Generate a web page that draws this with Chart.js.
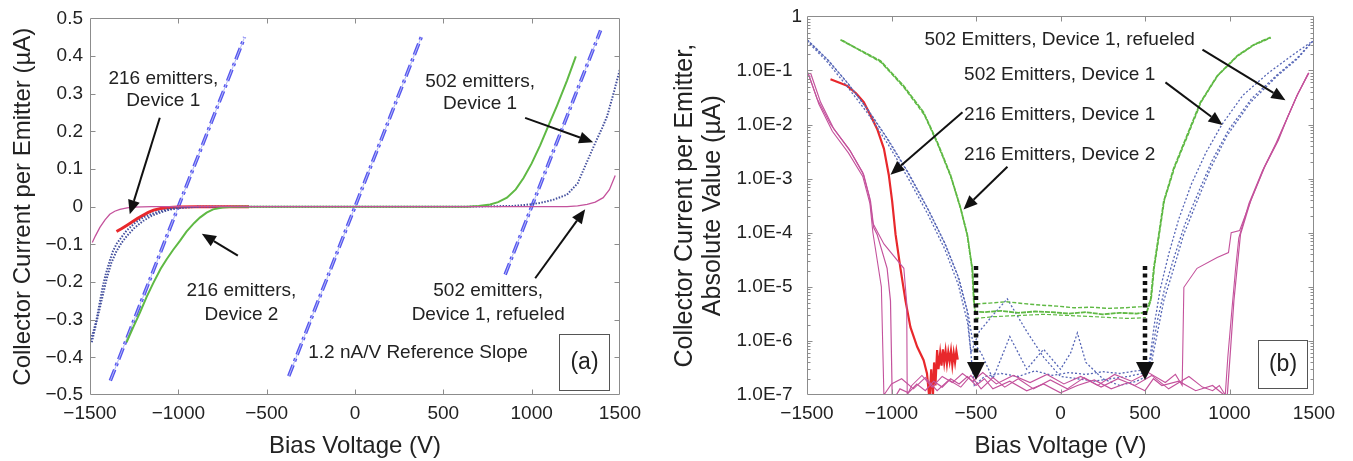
<!DOCTYPE html>
<html><head><meta charset="utf-8">
<script src="https://cdn.jsdelivr.net/npm/chart.js@4.4.1/dist/chart.umd.min.js"></script>
<style>
html,body{margin:0;padding:0;background:#fff;width:1353px;height:461px;overflow:hidden}
#wa{position:absolute;left:0;top:0;width:670px;height:461px}
#wb{position:absolute;left:670px;top:0;width:683px;height:461px}
</style></head><body>
<div id="wa"><canvas id="ca"></canvas></div>
<div id="wb"><canvas id="cb"></canvas></div>
<script>
// ---------- tick values / labels ----------
const xTicks = [-1500,-1000,-500,0,500,1000,1500];
const xTickLabels = ['\u22121500','\u22121000','\u2212500','0','500','1000','1500'];
const yTicksA = [-0.5,-0.4,-0.3,-0.2,-0.1,0,0.1,0.2,0.3,0.4,0.5];
const yTickLabelsA = ['\u22120.5','\u22120.4','\u22120.3','\u22120.2','\u22120.1','0','0.1','0.2','0.3','0.4','0.5'];
const yTicksB = [1e-7,1e-6,1e-5,1e-4,1e-3,1e-2,1e-1,1];
const yTickLabelsB = ['1.0E-7','1.0E-6','1.0E-5','1.0E-4','1.0E-3','1.0E-2','1.0E-1','1'];

// ---------- panel (a): linear current [V, uA] ----------
const refSlopeL = [[-1385,-0.462],[-625,0.45]];
const refSlopeC = [[-375,-0.45],[375,0.45]];
const refSlopeR = [[850,-0.18],[1390,0.468]];
const a216dev1 = [[-1350,-0.066],[-1320,-0.058],[-1290,-0.049],[-1260,-0.040],[-1230,-0.031],[-1200,-0.023],[-1170,-0.015],[-1140,-0.009],[-1100,-0.005],[-1050,-0.002],[-1000,-0.001],[-900,0],[-600,0]];
const a216dev2 = [[-1293,-0.36],[-1255,-0.32],[-1218,-0.282],[-1180,-0.24],[-1142,-0.203],[-1100,-0.165],[-1067,-0.14],[-1030,-0.115],[-990,-0.09],[-954,-0.066],[-910,-0.043],[-878,-0.029],[-840,-0.016],[-803,-0.007],[-750,-0.002],[-690,0],[0,0],[633,0],[700,0.002],[765,0.006],[810,0.012],[860,0.024],[910,0.046],[954,0.076],[1000,0.115],[1048,0.163],[1095,0.215],[1143,0.268],[1200,0.335],[1250,0.399]];
const a502dev1 = [[-1500,-0.36],[-1480,-0.33],[-1463,-0.30],[-1445,-0.255],[-1427,-0.21],[-1410,-0.178],[-1388,-0.143],[-1370,-0.118],[-1350,-0.099],[-1320,-0.08],[-1294,-0.064],[-1250,-0.045],[-1200,-0.029],[-1150,-0.019],[-1105,-0.012],[-1050,-0.006],[-1010,-0.003],[-950,-0.001],[-850,0],[0,0],[630,0],[750,0.001],[895,0.002],[970,0.005],[1048,0.01],[1120,0.018],[1200,0.032],[1260,0.062],[1313,0.119],[1340,0.148],[1370,0.18],[1400,0.21],[1427,0.24],[1460,0.295],[1499,0.364]];
const a502dev1b = [[-1490,-0.36],[-1460,-0.30],[-1430,-0.24],[-1405,-0.19],[-1380,-0.15],[-1350,-0.118],[-1320,-0.095],[-1290,-0.077],[-1250,-0.057],[-1200,-0.038],[-1150,-0.024],[-1100,-0.015],[-1050,-0.008],[-1000,-0.004],[-950,-0.002],[-880,0]];
const a502refuel = [[-1487,-0.095],[-1470,-0.078],[-1444,-0.055],[-1415,-0.035],[-1388,-0.02],[-1360,-0.012],[-1331,-0.007],[-1290,-0.003],[-1256,-0.001],[-1150,0],[0,0],[1200,0],[1260,0.002],[1314,0.006],[1360,0.012],[1405,0.024],[1440,0.045],[1473,0.083]];

// ---------- panel (b): |current| on log scale [V, uA] ----------
const b216dev2a = [[-1302,0.37],[-1200,0.25],[-1065,0.15],[-929,0.052],[-811,0.017],[-730,0.0048],[-651,0.00117],[-592,0.00029],[-552,9.3e-5],[-523,2.2e-5],[-513,5.5e-6],[-505,3.5e-6],[-450,3.4e-6],[-350,3.6e-6],[-250,3.3e-6],[-150,3.5e-6],[-50,3.4e-6],[50,3.2e-6],[150,3.4e-6],[250,3.1e-6],[350,3.3e-6],[450,3.2e-6],[510,3.4e-6],[533,5.5e-6],[552,2.2e-5],[582,9.3e-5],[611,3.8e-4],[670,1.55e-3],[749,6.3e-3],[828,0.0257],[927,0.079],[1045,0.186],[1144,0.30],[1243,0.41]];
const b216dev2b = [[-1290,0.36],[-1060,0.14],[-925,0.048],[-805,0.015],[-725,0.0042],[-645,0.001],[-588,2.6e-4],[-548,8e-5],[-520,2e-5],[-510,4.8e-6],[-420,5.0e-6],[-320,5.3e-6],[-220,4.9e-6],[-120,4.6e-6],[-20,4.4e-6],[80,4.1e-6],[180,4.2e-6],[280,4.0e-6],[380,4.1e-6],[480,4.3e-6],[515,4.4e-6],[537,6e-6],[556,2.4e-5],[586,1e-4],[615,4e-4],[675,1.6e-3],[755,6.5e-3],[832,0.026],[930,0.08],[1048,0.185],[1148,0.3],[1245,0.40]];
const b216dev2c = [[-505,2.6e-6],[-400,2.8e-6],[-300,2.9e-6],[-200,3.0e-6],[-100,3.1e-6],[0,3.0e-6],[100,2.9e-6],[200,2.8e-6],[300,2.7e-6],[400,2.6e-6],[505,2.7e-6]];
const b502dev1a = [[-1500,0.37],[-1381,0.162],[-1262,0.060],[-1144,0.0195],[-1026,0.0055],[-907,0.00135],[-789,2.9e-4],[-690,6.9e-5],[-611,1.7e-5],[-552,3.6e-6],[-523,3.3e-7],[-510,1.5e-7],[-450,2.2e-7],[-350,2.5e-7],[-250,2.2e-7],[-150,2.8e-7],[-50,2.3e-7],[50,2.6e-7],[150,2.4e-7],[250,2.7e-7],[350,2.5e-7],[450,2.8e-7],[520,3e-7],[533,3.3e-7],[572,1.35e-6],[611,5.5e-6],[670,2.2e-5],[729,9.3e-5],[808,3.8e-4],[888,1.55e-3],[986,6.3e-3],[1124,0.0257],[1282,0.079],[1400,0.162],[1500,0.37]];
const b502dev1b = [[-1500,0.35],[-1385,0.15],[-1265,0.052],[-1140,0.016],[-1020,0.0043],[-900,0.001],[-785,2.2e-4],[-685,5e-5],[-605,1.1e-5],[-550,2.2e-6],[-530,6e-7],[-480,1.5e-6],[-400,3e-6],[-315,6e-6],[-200,1.5e-6],[-100,5e-7],[0,2.2e-7],[100,2e-7],[200,1.8e-7],[300,2e-7],[400,2.2e-7],[480,2.5e-7],[520,2.8e-7],[540,6e-7],[575,2.5e-6],[615,9e-6],[672,3.5e-5],[735,1.4e-4],[815,5.5e-4],[895,2.1e-3],[995,8e-3],[1130,0.03],[1285,0.085],[1400,0.17],[1500,0.37]];
const b502dev1c = [[-1495,0.36],[-1375,0.155],[-1255,0.056],[-1135,0.018],[-1015,0.005],[-895,0.0012],[-780,2.6e-4],[-680,6e-5],[-600,1.4e-5],[-545,3e-6],[-520,1e-6],[-470,6e-7],[-400,2e-7],[-300,1.2e-6],[-200,3e-7],[-100,7e-7],[0,3e-7],[60,6e-7],[100,1.4e-6],[150,4e-7],[250,2e-7],[350,1.5e-7],[450,1.8e-7],[510,2.2e-7],[530,5e-7],[555,2e-6],[590,9e-6],[640,4e-5],[700,1.8e-4],[775,8e-4],[860,3e-3],[955,1e-2],[1080,0.035],[1230,0.09],[1380,0.2],[1480,0.33]];
const b216dev1 = [[-1361,0.069],[-1300,0.058],[-1262,0.052],[-1210,0.038],[-1164,0.026],[-1120,0.014],[-1085,0.0083],[-1045,0.0036],[-1016,0.00117],[-996,3.8e-4],[-976,9.3e-5],[-947,2.2e-5],[-917,5.5e-6],[-888,1.8e-6],[-848,7.8e-7],[-810,4.4e-7],[-790,2.5e-7],[-775,8e-8],[-765,3e-7],[-755,9e-8],[-748,4e-7],[-740,1.5e-7],[-730,6.8e-7],[-722,3e-7],[-712,6e-7],[-704,3.5e-7],[-696,7e-7],[-688,4e-7],[-680,6.5e-7],[-672,3.8e-7],[-664,6.2e-7],[-656,4.2e-7],[-648,6.5e-7],[-640,3.6e-7],[-632,6e-7],[-624,4e-7],[-616,6.4e-7],[-608,4.5e-7]];
const b502refuelA = [[-1479,0.09],[-1420,0.026],[-1341,0.0083],[-1243,0.0032],[-1164,0.00117],[-1124,3.8e-4],[-1105,1.23e-4],[-1085,9.3e-5],[-1026,2.2e-5],[-1006,5.5e-6],[-996,1e-7],[-990,8e-8],[-950,1.3e-7],[-900,1.1e-7],[-850,1.6e-7],[-800,1.2e-7],[-750,1.8e-7],[-700,1.4e-7],[-650,2e-7],[-600,1.6e-7],[-550,2.2e-7],[-500,1.5e-7],[-450,2e-7],[-400,1.3e-7],[-300,1.8e-7],[-200,1.2e-7],[-100,1.6e-7],[0,1.1e-7],[100,1.5e-7],[200,1.9e-7],[300,1.3e-7],[400,1.7e-7],[500,1.2e-7],[550,2e-7],[600,1.5e-7],[700,1.8e-7],[800,1.2e-7],[900,1.5e-7],[986,9e-8],[1006,6.8e-7],[1026,5.5e-6],[1045,2.2e-5],[1065,9.3e-5],[1124,3.8e-4],[1203,1.55e-3],[1282,4.8e-3],[1341,0.0129],[1400,0.0347],[1469,0.091]];
const b502refuelB = [[-1500,0.1],[-1440,0.03],[-1360,0.01],[-1250,0.0035],[-1170,0.0013],[-1130,4.5e-4],[-1110,1.5e-4],[-1045,6.2e-5],[-927,2.2e-5],[-910,5e-6],[-907,1e-7],[-880,1.5e-7],[-820,2.3e-7],[-760,1.4e-7],[-700,2.2e-7],[-640,1.7e-7],[-580,2.5e-7],[-520,1.8e-7],[-460,2.6e-7],[-380,1.6e-7],[-280,2.3e-7],[-180,1.7e-7],[-80,2.4e-7],[20,1.6e-7],[120,2.2e-7],[220,1.5e-7],[320,2.4e-7],[420,1.8e-7],[520,2.6e-7],[620,1.7e-7],[680,2.4e-7],[720,1.5e-7],[730,9.8e-6],[808,2.2e-5],[927,3.5e-5],[994,4.3e-5],[1010,1e-4],[1060,1.1e-4],[1130,4.2e-4],[1210,1.7e-3],[1290,5.2e-3],[1345,0.014],[1405,0.037],[1470,0.09]];
const b502refuelC = [[-1490,0.085],[-1430,0.024],[-1350,0.0075],[-1255,0.003],[-1170,0.0011],[-1128,3.5e-4],[-1110,1e-4],[-1090,4e-5],[-1060,1e-5],[-1045,1e-7],[-1000,1.6e-7],[-940,2e-7],[-870,1.3e-7],[-800,2.1e-7],[-730,1.2e-7],[-660,1.9e-7],[-590,1.4e-7],[-530,2.3e-7],[-470,1.3e-7],[-400,2.1e-7],[-330,1.4e-7],[-250,2e-7],[-160,1.3e-7],[-60,1.9e-7],[40,1.3e-7],[140,2.1e-7],[240,1.4e-7],[340,2e-7],[440,1.5e-7],[540,2.3e-7],[640,1.3e-7],[760,2.2e-7],[840,1.4e-7],[900,1.2e-7],[940,1.5e-7],[975,1e-7],[990,5e-7],[1015,4e-6],[1035,2e-5],[1055,8e-5],[1115,3.5e-4],[1195,1.4e-3],[1275,4.5e-3],[1335,0.012],[1395,0.032],[1465,0.088]];

// ---------- styling ----------
const FONT = '"Liberation Sans", Arial, Helvetica, sans-serif';
const TXT = '#222';
const AXC = '#8c8c8c';
const C_REF = '#5656ee', C_REF2 = '#b4baf6';
const C_GRN = '#5fb944', C_BLU = '#44509e', C_BLU2 = '#5666b6', C_RED = '#e8282c', C_MAG = '#c4529c';
Chart.defaults.font.family = FONT;

function ds(arr, color, width, dash) {
  return {data: arr.map(p => ({x: p[0], y: p[1]})), borderColor: color, backgroundColor: color,
    borderWidth: width, borderDash: dash || [], pointRadius: 0, showLine: true, tension: 0, fill: false};
}

function arrow(ctx, x1, y1, x2, y2, head, w) {
  const a = Math.atan2(y2 - y1, x2 - x1);
  const bx = x2 - head * Math.cos(a), by = y2 - head * Math.sin(a);
  ctx.beginPath(); ctx.moveTo(x1, y1); ctx.lineTo(bx, by); ctx.stroke();
  ctx.setLineDash([]);
  ctx.beginPath(); ctx.moveTo(x2, y2);
  ctx.lineTo(bx + w / 2 * Math.sin(a), by - w / 2 * Math.cos(a));
  ctx.lineTo(bx - w / 2 * Math.sin(a), by + w / 2 * Math.cos(a));
  ctx.closePath(); ctx.fill();
}

function makeDeco(cfg) {
  return {
    id: 'deco',
    afterDatasetsDraw(chart) {
      const {ctx, chartArea: ca} = chart;
      const xs = chart.scales.x, ys = chart.scales.y;
      ctx.save();
      const L = Math.round(ca.left) + 0.5, R = Math.round(ca.right) - 0.5;
      const T = Math.round(ca.top) + 0.5, B = Math.round(ca.bottom) - 0.5;
      ctx.strokeStyle = AXC; ctx.lineWidth = 1; ctx.setLineDash([]);
      ctx.beginPath();
      ctx.rect(L, T, R - L, B - T);
      xs.ticks.forEach(t => {
        const p = Math.round(xs.getPixelForValue(t.value)) + 0.5;
        if (p <= L + 1 || p >= R - 1) return;
        ctx.moveTo(p, B); ctx.lineTo(p, B - 5); ctx.moveTo(p, T); ctx.lineTo(p, T + 5);
      });
      ys.ticks.forEach(t => {
        const p = Math.round(ys.getPixelForValue(t.value)) + 0.5;
        if (p <= T + 1 || p >= B - 1) return;
        ctx.moveTo(L, p); ctx.lineTo(L + 5, p); ctx.moveTo(R, p); ctx.lineTo(R - 5, p);
      });
      if (cfg.minorLog) {
        for (let d = -7; d < 0; d++) for (let k = 2; k <= 9; k++) {
          const p = Math.round(ys.getPixelForValue(k * Math.pow(10, d))) + 0.5;
          ctx.moveTo(L, p); ctx.lineTo(L + 3, p); ctx.moveTo(R, p); ctx.lineTo(R - 3, p);
        }
      }
      ctx.stroke();
      ctx.fillStyle = TXT; ctx.textAlign = 'center'; ctx.textBaseline = 'middle';
      ctx.font = '19px ' + FONT;
      cfg.texts.forEach(t => ctx.fillText(t.t, xs.getPixelForValue(t.x), ys.getPixelForValue(t.y)));
      ctx.strokeStyle = '#111'; ctx.fillStyle = '#111'; ctx.lineWidth = 2;
      cfg.arrows.forEach(a => {
        ctx.setLineDash([]);
        arrow(ctx, xs.getPixelForValue(a[0]), ys.getPixelForValue(a[1]), xs.getPixelForValue(a[2]), ys.getPixelForValue(a[3]), 14, 12);
      });
      (cfg.dotArrows || []).forEach(a => {
        ctx.lineWidth = 4.5; ctx.setLineDash([4, 3.5]);
        const px = xs.getPixelForValue(a[0]);
        arrow(ctx, px, ys.getPixelForValue(a[1]), px, ys.getPixelForValue(a[2]), 18, 18);
      });
      ctx.setLineDash([]); ctx.lineWidth = 1; ctx.strokeStyle = '#555';
      const b = cfg.box;
      const bx1 = Math.round(xs.getPixelForValue(b.x1)) + 0.5, bx2 = Math.round(xs.getPixelForValue(b.x2)) + 0.5;
      const by1 = Math.round(ys.getPixelForValue(b.y1)) + 0.5, by2 = Math.round(ys.getPixelForValue(b.y2)) + 0.5;
      ctx.strokeRect(bx1, by1, bx2 - bx1, by2 - by1);
      ctx.font = '23px ' + FONT; ctx.fillStyle = TXT;
      ctx.fillText(b.t, (bx1 + bx2) / 2, (by1 + by2) / 2);
      ctx.restore();
    }
  };
}

function axisX() {
  return {type: 'linear', min: -1500, max: 1500,
    afterBuildTicks: s => { s.ticks = xTicks.map(v => ({value: v})); },
    afterFit: s => { s.height = 66; },
    grid: {display: false, drawTicks: false}, border: {display: false},
    ticks: {font: {size: 19}, color: TXT, padding: 7, maxRotation: 0, autoSkip: false, callback: (v, i) => xTickLabels[i]},
    title: {display: true, text: 'Bias Voltage (V)', font: {size: 24}, color: TXT, padding: {top: 0, bottom: 0}}};
}

const REFDASH = [12, 4, 3, 4];

// ---------- chart (a) ----------
new Chart(document.getElementById('ca'), {
  type: 'scatter',
  data: {datasets: [
    ds(a502refuel, C_MAG, 1.3),
    ds(a216dev2, C_GRN, 2),
    ds(a502dev1b, C_BLU, 2, [1.5, 1.5]),
    ds(a502dev1, C_BLU, 2, [1.5, 1.5]),
    ds(a216dev1, C_RED, 3),
    ds(refSlopeL, C_REF2, 1), ds(refSlopeC, C_REF2, 1), ds(refSlopeR, C_REF2, 1),
    ds(refSlopeL, C_REF, 3.5, REFDASH), ds(refSlopeC, C_REF, 3.5, REFDASH), ds(refSlopeR, C_REF, 3.5, REFDASH)
  ]},
  options: {
    responsive: true, maintainAspectRatio: false, animation: false, events: [],
    layout: {padding: {left: 0, right: 50, top: 13, bottom: 0}},
    plugins: {legend: {display: false}, tooltip: {enabled: false}},
    scales: {
      x: axisX(),
      y: {type: 'linear', min: -0.5, max: 0.5,
        afterBuildTicks: s => { s.ticks = yTicksA.map(v => ({value: v})); },
        afterFit: s => { s.width = 90; },
        grid: {display: false, drawTicks: false}, border: {display: false},
        ticks: {font: {size: 19}, color: TXT, padding: 7, autoSkip: false, callback: (v, i) => yTickLabelsA[i]},
        title: {display: true, text: 'Collector Current per Emitter (\u00b5A)', font: {size: 24}, color: TXT, padding: {top: 9, bottom: 0}}}
    }
  },
  plugins: [makeDeco({
    texts: [
      {t: '216 emitters,', x: -1085, y: 0.34}, {t: 'Device 1', x: -1085, y: 0.28},
      {t: '216 emitters,', x: -643, y: -0.224}, {t: 'Device 2', x: -643, y: -0.287},
      {t: '502 emitters,', x: 708, y: 0.333}, {t: 'Device 1', x: 708, y: 0.273},
      {t: '502 emitters,', x: 754, y: -0.224}, {t: 'Device 1, refueled', x: 754, y: -0.287},
      {t: '1.2 nA/V Reference Slope', x: 357, y: -0.389}
    ],
    arrows: [[-1105, 0.236, -1275, -0.020], [-663, -0.130, -867, -0.072], [963, 0.236, 1348, 0.171], [1020, -0.190, 1303, -0.007]],
    box: {x1: 1156, x2: 1439, y1: -0.337, y2: -0.486, t: '(a)'}
  })]
});

// ---------- chart (b) ----------
new Chart(document.getElementById('cb'), {
  type: 'scatter',
  data: {datasets: [
    ds(b502refuelC, C_MAG, 1.1), ds(b502refuelB, C_MAG, 1.1), ds(b502refuelA, C_MAG, 1.2),
    ds(b216dev2c, C_GRN, 1.2, [4, 2]), ds(b216dev2b, C_GRN, 1.4, [4, 2]), ds(b216dev2a, C_GRN, 1.8, [5, 1]),
    ds(b502dev1c, C_BLU2, 1.3, [2, 2]), ds(b502dev1b, C_BLU2, 1.3, [2, 2]), ds(b502dev1a, C_BLU2, 1.3, [2, 2]),
    ds(b216dev1, C_RED, 2.2)
  ]},
  options: {
    responsive: true, maintainAspectRatio: false, animation: false, events: [],
    layout: {padding: {left: 0, right: 39, top: 13, bottom: 0}},
    plugins: {legend: {display: false}, tooltip: {enabled: false}},
    scales: {
      x: axisX(),
      y: {type: 'logarithmic', min: 1e-7, max: 1,
        afterBuildTicks: s => { s.ticks = yTicksB.map(v => ({value: v})); },
        afterFit: s => { s.width = 137; },
        grid: {display: false, drawTicks: false}, border: {display: false},
        ticks: {font: {size: 19}, color: TXT, padding: 5, autoSkip: false,
          callback: (v, i) => yTickLabelsB[i] + (yTickLabelsB[i] === '1' ? '' : '\u2002')},
        title: {display: true, text: ['Collector Current per Emitter,', 'Absolute Value (\u00b5A)'], font: {size: 25, lineHeight: 1.12}, color: TXT, padding: {top: 1, bottom: 0}}}
    }
  },
  plugins: [makeDeco({
    minorLog: true,
    texts: [
      {t: '502 Emitters, Device 1, refueled', x: -5, y: 0.37},
      {t: '502 Emitters, Device 1', x: -5, y: 0.0845},
      {t: '216 Emitters, Device 1', x: -5, y: 0.0149},
      {t: '216 Emitters, Device 2', x: -5, y: 0.00275}
    ],
    arrows: [[840, 0.243, 1331, 0.0282], [621, 0.0602, 959, 0.00977], [-580, 0.01694, -1006, 0.00118], [-314, 0.00166, -574, 0.00027]],
    dotArrows: [[-500, 2.43e-5, 1.9e-7], [500, 2.43e-5, 1.9e-7]],
    box: {x1: 1166, x2: 1456, y1: 1.02e-6, y2: 1.35e-7, t: '(b)'}
  })]
});
</script>
</body></html>
